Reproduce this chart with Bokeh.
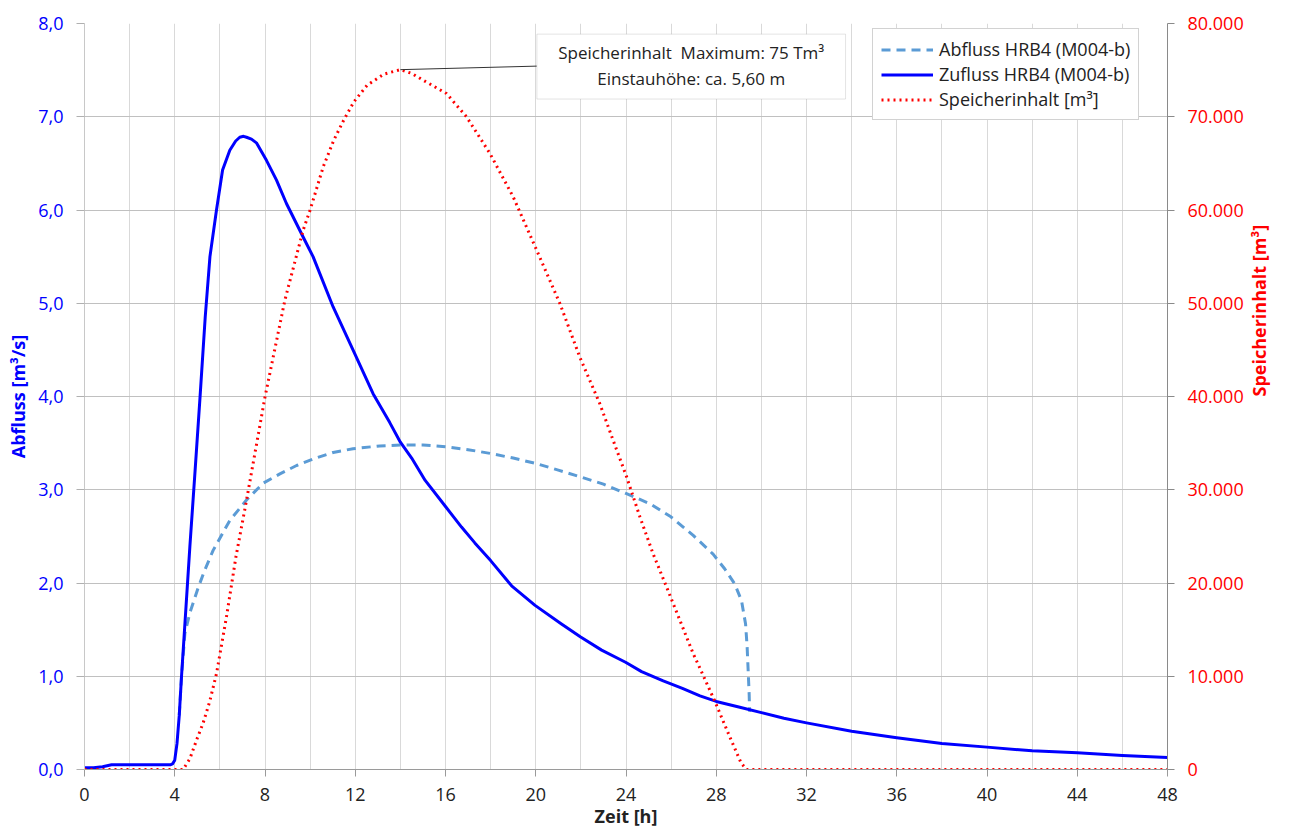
import math
from bokeh.plotting import figure
from bokeh.models import (Range1d, LinearAxis, SingleIntervalTicker, FixedTicker,
                          CustomJSTickFormatter, Legend, LegendItem, BoxAnnotation, Label,
                          ColumnDataSource)
from bokeh.embed import file_html
from bokeh.resources import INLINE

# ---------------- data ----------------
# Zufluss HRB4 (M004-b) [m3/s]
zu_t = [0, 0.4, 0.8, 1.2, 1.5, 2, 3, 3.8, 3.9, 4.0, 4.1, 4.2, 4.3, 4.5, 4.67, 4.9, 5.12, 5.35,
        5.56, 5.85, 6.12, 6.44, 6.7, 6.88, 7.05, 7.18, 7.4, 7.62, 8.07, 8.51, 8.95, 9.69, 10.13,
        11.02, 11.9, 12.79, 13.53, 14, 14.5, 15.1, 16, 16.71, 17.3, 18, 18.93, 19.97, 21.14,
        21.99, 22.92, 23.98, 24.69, 25.65, 26.5, 27.28, 28, 29, 30, 31, 32, 34, 36, 38, 40, 42,
        44, 46, 48]
zu_q = [0.02, 0.02, 0.03, 0.05, 0.05, 0.05, 0.05, 0.05, 0.06, 0.10, 0.28, 0.58, 1.00, 1.75, 2.39,
        3.20, 3.99, 4.85, 5.50, 6.00, 6.43, 6.64, 6.74, 6.78, 6.79, 6.78, 6.76, 6.72, 6.53, 6.32,
        6.07, 5.71, 5.50, 4.96, 4.50, 4.03, 3.72, 3.51, 3.34, 3.10, 2.82, 2.60, 2.43, 2.24, 1.97,
        1.76, 1.56, 1.42, 1.28, 1.15, 1.05, 0.95, 0.87, 0.79, 0.73, 0.67, 0.61, 0.55, 0.50, 0.41,
        0.34, 0.28, 0.24, 0.20, 0.18, 0.15, 0.13]

# Abfluss HRB4 (M004-b) [m3/s]
ab_t = [4.2, 4.3, 4.45, 4.67, 5.04, 5.3, 5.7, 6.44, 7.18, 7.92, 8.66, 9.4, 10.13, 11.02, 11.9,
        13.09, 14, 15, 16.04, 17, 17.97, 19, 20.04, 21, 21.95, 23, 24, 25.06, 25.99, 26.98,
        27.86, 28.38, 28.82, 29.12, 29.3, 29.37, 29.42, 29.46, 29.48]
ab_q = [0.58, 1.00, 1.46, 1.68, 1.95, 2.12, 2.35, 2.67, 2.89, 3.07, 3.17, 3.26, 3.33, 3.40, 3.44,
        3.47, 3.48, 3.48, 3.46, 3.43, 3.39, 3.34, 3.28, 3.21, 3.14, 3.06, 2.96, 2.85, 2.71, 2.51,
        2.31, 2.15, 1.99, 1.81, 1.56, 1.31, 1.03, 0.80, 0.62]

# Speicherinhalt [m3]
sp_t = [0, 4.37, 4.67, 4.96, 5.26, 5.55, 5.85, 6.29, 6.71, 7.18, 8.0, 8.88, 9.69, 10.0, 10.58,
        11.05, 11.49, 11.94, 12.53, 13.27, 14.0, 14.5, 15.0, 16.04, 16.93, 17.97, 19.0, 20.04,
        21.07, 21.95, 22.84, 23.43, 24.03, 24.62, 25.2, 25.8, 26.39, 26.98, 27.27, 27.94, 28.6,
        29.1, 29.34, 48]
sp_v = [0, 0, 1150, 3110, 5000, 7300, 10270, 16340, 22780, 28860, 39950, 50320, 57830, 60000,
        64630, 67490, 69640, 71600, 73390, 74570, 75050, 74650, 73930, 72500, 70000, 66060,
        61410, 55690, 49970, 44240, 39220, 35300, 31360, 27070, 23140, 19560, 15990, 12410,
        10900, 7300, 3500, 700, 0, 0]

series_names = ["Abfluss HRB4 (M004-b)", "Zufluss HRB4 (M004-b)", "Speicherinhalt [m³]"]
note_lines = ["Speicherinhalt \u00a0Maximum: 75 Tm³", "Einstauhöhe: ca. 5,60 m"]
x_title = "Zeit [h]"
yl_title = "Abfluss [m³/s]"
yr_title = "Speicherinhalt [m³]"

# ---------------- styling / layout ----------------
FONT = "Open Sans"
BLUE = "#0000FF"
LBLUE = "#5B9BD5"
RED = "#FF0000"

p = figure(width=1289, height=837, output_backend="svg", toolbar_location=None,
           x_range=Range1d(0, 48), y_range=Range1d(0, 8),
           min_border_left=84, min_border_right=122, min_border_top=23, min_border_bottom=68)
p.extra_y_ranges = {"vol": Range1d(0, 80000)}
p.outline_line_color = None
p.background_fill_color = "white"

# grids
p.xgrid.ticker = SingleIntervalTicker(interval=2, num_minor_ticks=0)
p.xgrid.grid_line_color = "#d9d9d9"
p.ygrid.ticker = SingleIntervalTicker(interval=1, num_minor_ticks=0)
p.ygrid.grid_line_color = "#c0c0c0"

# x axis
xa = p.xaxis[0]
xa.ticker = SingleIntervalTicker(interval=4, num_minor_ticks=0)
xa.axis_line_color = "#9a9a9a"
xa.major_tick_line_color = "#9a9a9a"
xa.major_tick_out = 7
xa.major_tick_in = 0
xa.minor_tick_line_color = None
xa.major_label_text_font = FONT
xa.major_label_text_font_size = "18px"
xa.major_label_text_color = "#222222"
xa.major_label_standoff = 11
xa.axis_label = x_title
xa.axis_label_text_font = FONT
xa.axis_label_text_font_style = "bold"
xa.axis_label_text_font_size = "18px"
xa.axis_label_text_color = "#222222"
xa.axis_label_standoff = 0

# left axis
ya = p.yaxis[0]
ya.ticker = SingleIntervalTicker(interval=1, num_minor_ticks=0)
ya.formatter = CustomJSTickFormatter(code="return tick.toFixed(1).replace('.', ',');")
ya.axis_line_color = "#c8c8c8"
ya.major_tick_line_color = "#b0b0b0"
ya.major_tick_out = 8
ya.major_tick_in = 0
ya.minor_tick_line_color = None
ya.major_label_text_font = FONT
ya.major_label_text_font_size = "18px"
ya.major_label_text_color = BLUE
ya.major_label_standoff = 13
ya.axis_label = yl_title
ya.axis_label_text_font = FONT
ya.axis_label_text_font_style = "bold"
ya.axis_label_text_font_size = "18px"
ya.axis_label_text_color = BLUE
ya.axis_label_standoff = 5

# right axis (ticks + labels)
yr = LinearAxis(y_range_name="vol", ticker=SingleIntervalTicker(interval=10000, num_minor_ticks=0))
yr.formatter = CustomJSTickFormatter(
    code="return Math.round(tick).toString().replace(/\\B(?=(\\d{3})+(?!\\d))/g, '.');")
yr.axis_line_color = "#8a8a8a"
yr.major_tick_line_color = "#8a8a8a"
yr.major_tick_out = 7
yr.major_tick_in = 0
yr.minor_tick_line_color = None
yr.major_label_text_font = FONT
yr.major_label_text_font_size = "18px"
yr.major_label_text_color = RED
yr.major_label_standoff = 13
p.add_layout(yr, "right")

# right axis title (separate tick-less axis, title reading bottom-to-top)
yr2 = LinearAxis(y_range_name="vol", ticker=FixedTicker(ticks=[]))
yr2.axis_line_color = None
yr2.major_tick_line_color = None
yr2.minor_tick_line_color = None
yr2.major_tick_out = 0
yr2.major_label_text_font_size = "0px"
yr2.axis_label = yr_title
yr2.axis_label_text_font = FONT
yr2.axis_label_text_font_style = "bold"
yr2.axis_label_text_font_size = "18px"
yr2.axis_label_text_color = RED
yr2.axis_label_standoff = 12
if "axis_label_orientation" in yr2.properties():
    yr2.axis_label_orientation = math.pi / 2
p.add_layout(yr2, "right")

# series
r_ab = p.line(ab_t, ab_q, line_color=LBLUE, line_width=3, line_dash="9 6")
r_zu = p.line(zu_t, zu_q, line_color=BLUE, line_width=3, line_join="round")
r_sp = p.line(sp_t, sp_v, line_color=RED, line_width=3, line_dash="2 4", y_range_name="vol")

# annotation box (positions in data units)
box_l, box_r, box_t, box_b = 20.05, 33.73, 7.886, 7.19
imax = sp_v.index(max(sp_v))
lead = ColumnDataSource(dict(x0=[sp_t[imax]], y0=[sp_v[imax]], x1=[box_l], y1=[75430]))
p.segment("x0", "y0", "x1", "y1", source=lead, line_color="#333333", line_width=1,
          y_range_name="vol")
p.add_layout(BoxAnnotation(left=box_l, right=box_r, top=box_t, bottom=box_b,
                           fill_color="white", fill_alpha=1.0,
                           line_color="#a6a6a6", line_width=1, level="overlay"))
cx = (box_l + box_r) / 2
for txt, yy in zip(note_lines, [7.693, 7.414]):
    p.add_layout(Label(x=cx, y=yy, text=txt, text_align="center", text_baseline="middle",
                       text_font=FONT, text_font_size="17px", text_color="#222222",
                       level="overlay"))

# legend (location = bottom-left corner in frame pixels)
leg = Legend(items=[LegendItem(label=series_names[0], renderers=[r_ab]),
                    LegendItem(label=series_names[1], renderers=[r_zu]),
                    LegendItem(label=series_names[2], renderers=[r_sp])],
             location=(788, 649))
leg.label_text_font = FONT
leg.label_text_font_size = "18px"
leg.label_text_color = "#222222"
leg.glyph_width = 52
leg.glyph_height = 21
leg.label_height = 21
leg.label_standoff = 6
leg.padding = 8
leg.spacing = 1
leg.margin = 0
leg.border_line_color = "#a6a6a6"
leg.border_line_width = 1
leg.background_fill_alpha = 1.0
p.add_layout(leg)

open("out.html", "w").write(file_html(p, INLINE))
